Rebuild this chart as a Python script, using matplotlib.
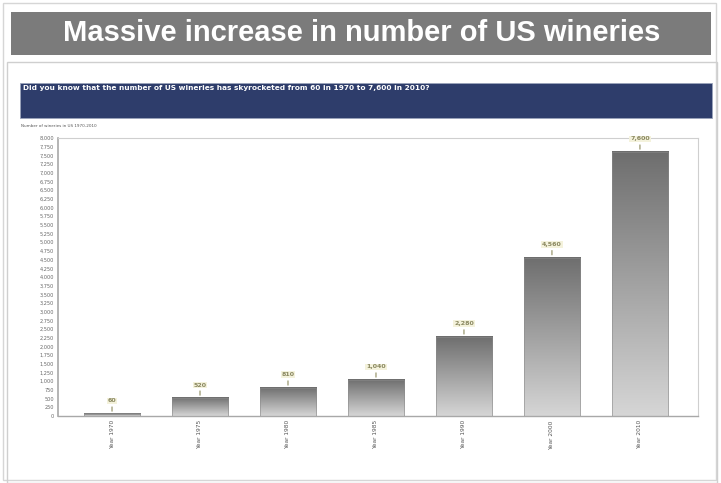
import matplotlib
matplotlib.use("Agg")
import matplotlib.pyplot as plt
import numpy as np
from matplotlib.patches import Rectangle

# Number of US wineries by year
years = ["Year 1970", "Year 1975", "Year 1980", "Year 1985", "Year 1990", "Year 2000", "Year 2010"]
wineries = [60, 520, 810, 1040, 2280, 4560, 7600]
y_ticks = list(range(0, 8001, 250))

title = "Massive increase in number of US wineries"
banner = "Did you know that the number of US wineries has skyrocketed from 60 in 1970 to 7,600 in 2010?"
caption = "Number of wineries in US 1970-2010"

W, H = 721, 483
fig = plt.figure(figsize=(W / 100, H / 100), dpi=100)
fig.patch.set_facecolor("white")

def fx(px):
    return px / W

def fy(py):
    return 1 - py / H

# slide border and chart panel border
fig.add_artist(Rectangle((fx(3), fy(480)), fx(713), 477 / H, transform=fig.transFigure,
                         facecolor="none", edgecolor="#d6d6d6", lw=1.0))
fig.add_artist(Rectangle((fx(7), fy(483)), fx(710), 421 / H, transform=fig.transFigure,
                         facecolor="none", edgecolor="#cfcfcf", lw=1.0))

# title bar
fig.add_artist(Rectangle((fx(11), fy(55)), fx(700), 43 / H, transform=fig.transFigure,
                         facecolor="#7b7b7b", edgecolor="none"))
fig.text(fx(362), fy(33), title, color="white", fontsize=21, fontweight="bold",
         family=["Liberation Sans Narrow", "Liberation Sans", "DejaVu Sans"],
         ha="center", va="center")

# navy banner
fig.add_artist(Rectangle((fx(20), fy(118)), fx(692), 35 / H, transform=fig.transFigure,
                         facecolor="#2e3d6b", edgecolor="#9aa3bb", lw=0.6))
fig.text(fx(23), fy(88), banner, color="white", fontsize=5.3, fontweight="bold",
         ha="left", va="center")
fig.text(fx(21), fy(126), caption, color="#555555", fontsize=3.0, ha="left", va="center")

# bar chart
ax = fig.add_axes([fx(58), fy(416), fx(640), 278 / H])
x = np.arange(len(years))
bars = ax.bar(x, wineries, width=0.64, color="none", edgecolor="none", zorder=2)
ax.set_xlim(-0.614, 6.66)
ax.set_ylim(0, 8000)

# vertical gray gradient within each bar: dark at its top, light at its base
grad = np.linspace(0, 1, 256).reshape(-1, 1)
cmap = matplotlib.colors.LinearSegmentedColormap.from_list("g", ["#d6d6d6", "#6e6e6e"])
for b in bars:
    x0, y0 = b.get_x(), b.get_y()
    w, h = b.get_width(), b.get_height()
    im = ax.imshow(grad, cmap=cmap, aspect="auto", origin="lower",
                   extent=(x0, x0 + w, y0, y0 + h), zorder=2, interpolation="bilinear")
    ax.add_patch(Rectangle((x0, y0), w, h, facecolor="none", edgecolor="#8a8a8a", lw=0.4, zorder=3))

# value labels with short stems
for xi, v in zip(x, wineries):
    ax.annotate("", xy=(xi, v), xytext=(0, 7), textcoords="offset points",
                arrowprops=dict(arrowstyle="-", color="#9a9870", lw=0.9), zorder=4)
    ax.annotate(f"{v:,}", xy=(xi, v), xytext=(0, 7.5), textcoords="offset points",
                ha="center", va="bottom", fontsize=4.5, color="#8a8860", fontweight="bold",
                bbox=dict(boxstyle="square,pad=0.15", fc="#f4f2dc", ec="none"), zorder=4)

ax.set_xticks(x)
ax.set_xticklabels(years, rotation=90, fontsize=4.2, color="#555555")
ax.set_yticks(y_ticks)
ax.set_yticklabels([f"{t:,}" for t in y_ticks], fontsize=3.6, color="#666666")
ax.tick_params(axis="both", length=0, pad=3)
for side in ["top", "right"]:
    ax.spines[side].set_color("#cfcfcf")
    ax.spines[side].set_linewidth(0.8)
ax.spines["left"].set_color("#a8a8a8")
ax.spines["left"].set_linewidth(1.2)
ax.spines["bottom"].set_color("#a8a8a8")
ax.spines["bottom"].set_linewidth(1.0)

fig.savefig("out.png", dpi=100)
